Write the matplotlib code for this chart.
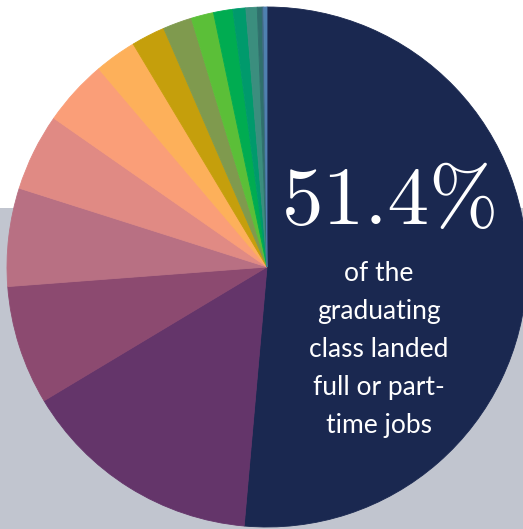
import matplotlib
matplotlib.use("Agg")
import matplotlib.pyplot as plt
from matplotlib.patches import Rectangle

# Share of graduating class by outcome (percent), clockwise from top
shares = [51.4, 15.0, 7.4, 6.1, 4.8, 4.1, 2.6, 2.1, 1.8, 1.4, 1.2, 0.8, 0.7, 0.3, 0.1, 0.2]
colors = ["#1a2850", "#64356a", "#8c4a70", "#b87083", "#e08a84", "#fa9e78",
          "#fdb05a", "#c59f0c", "#7f9a4e", "#5bbf38", "#00ac51", "#009a6c",
          "#3b8e7e", "#2f706c", "#3e6a82", "#4f80b0"]
headline = "51.4%"
body_lines = ["of the", "graduating", "class landed", "full or part-", "time jobs"]

W, H = 523, 529
fig = plt.figure(figsize=(W / 100, H / 100), dpi=100)
fig.patch.set_facecolor("white")
ax = fig.add_axes([0, 0, 1, 1])

# grey band behind the lower part
ax.add_patch(Rectangle((0, 0), W, H - 208, facecolor="#c1c5cf", edgecolor="none", zorder=0))

wedges, _ = ax.pie(shares, colors=colors, startangle=90, counterclock=False,
                   center=(267, H - 267), radius=260, normalize=True, frame=True)
for w, c in zip(wedges, colors):
    w.set_edgecolor(c)
    w.set_linewidth(0.6)

ax.set_xlim(0, W)
ax.set_ylim(0, H)
ax.set_aspect("equal")
ax.axis("off")

ax.text(391, H - 224, headline, color="white", fontsize=60,
        family="cmr10", ha="center", va="baseline", zorder=5)

baselines = [281, 319, 357, 395, 433]
for line, yb in zip(body_lines, baselines):
    ax.text(379, H - yb, line, color="white", fontsize=19,
            family="Lato", ha="center", va="baseline", zorder=5)

fig.savefig("out.png", dpi=100)
